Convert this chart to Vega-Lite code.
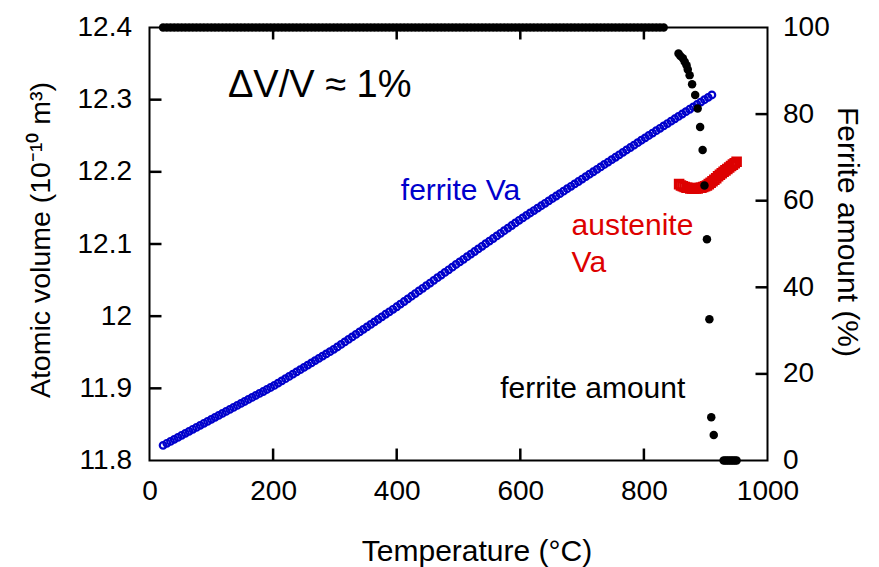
{
  "$schema": "https://vega.github.io/schema/vega-lite/v6.json",
  "width": 618,
  "height": 433,
  "autosize": {"type": "none"},
  "padding": {"left": 149.5, "top": 27.5, "right": 111.5, "bottom": 106.5},
  "background": "white",
  "config": {
    "view": {"stroke": "black", "strokeWidth": 2},
    "font": "Liberation Sans",
    "axis": {
      "domain": false, "grid": false, "ticks": false, "labelFlush": false,
      "labelFont": "Liberation Sans", "labelFontSize": 28, "labelColor": "black",
      "titleFont": "Liberation Sans", "titleFontSize": 30, "titleFontWeight": "normal", "titleColor": "black"
    }
  },
  "datasets": {
    "ferrite": [
      {"T":22,"Va":11.8210,"F":100},{"T":28,"Va":11.8238,"F":100},{"T":34,"Va":11.8265,"F":100},{"T":40,"Va":11.8293,"F":100},{"T":46,"Va":11.8320,"F":100},{"T":52,"Va":11.8349,"F":100},{"T":58,"Va":11.8376,"F":100},{"T":64,"Va":11.8404,"F":100},{"T":70,"Va":11.8432,"F":100},{"T":76,"Va":11.8459,"F":100},
      {"T":82,"Va":11.8487,"F":100},{"T":88,"Va":11.8515,"F":100},{"T":94,"Va":11.8542,"F":100},{"T":100,"Va":11.8570,"F":100},{"T":106,"Va":11.8598,"F":100},{"T":112,"Va":11.8625,"F":100},{"T":118,"Va":11.8653,"F":100},{"T":124,"Va":11.8680,"F":100},{"T":130,"Va":11.8708,"F":100},{"T":136,"Va":11.8736,"F":100},
      {"T":142,"Va":11.8763,"F":100},{"T":148,"Va":11.8791,"F":100},{"T":154,"Va":11.8818,"F":100},{"T":160,"Va":11.8846,"F":100},{"T":166,"Va":11.8874,"F":100},{"T":172,"Va":11.8901,"F":100},{"T":178,"Va":11.8929,"F":100},{"T":184,"Va":11.8956,"F":100},{"T":190,"Va":11.8984,"F":100},{"T":196,"Va":11.9012,"F":100},
      {"T":202,"Va":11.9040,"F":100},{"T":208,"Va":11.9072,"F":100},{"T":214,"Va":11.9103,"F":100},{"T":220,"Va":11.9134,"F":100},{"T":226,"Va":11.9165,"F":100},{"T":232,"Va":11.9196,"F":100},{"T":238,"Va":11.9228,"F":100},{"T":244,"Va":11.9259,"F":100},{"T":250,"Va":11.9290,"F":100},{"T":256,"Va":11.9321,"F":100},
      {"T":262,"Va":11.9352,"F":100},{"T":268,"Va":11.9384,"F":100},{"T":274,"Va":11.9415,"F":100},{"T":280,"Va":11.9446,"F":100},{"T":286,"Va":11.9477,"F":100},{"T":292,"Va":11.9508,"F":100},{"T":298,"Va":11.9540,"F":100},{"T":304,"Va":11.9573,"F":100},{"T":310,"Va":11.9608,"F":100},{"T":316,"Va":11.9643,"F":100},
      {"T":322,"Va":11.9678,"F":100},{"T":328,"Va":11.9712,"F":100},{"T":334,"Va":11.9747,"F":100},{"T":340,"Va":11.9782,"F":100},{"T":346,"Va":11.9817,"F":100},{"T":352,"Va":11.9852,"F":100},{"T":358,"Va":11.9886,"F":100},{"T":364,"Va":11.9921,"F":100},{"T":370,"Va":11.9956,"F":100},{"T":376,"Va":11.9991,"F":100},
      {"T":382,"Va":12.0026,"F":100},{"T":388,"Va":12.0060,"F":100},{"T":394,"Va":12.0095,"F":100},{"T":400,"Va":12.0130,"F":100},{"T":406,"Va":12.0167,"F":100},{"T":412,"Va":12.0203,"F":100},{"T":418,"Va":12.0240,"F":100},{"T":424,"Va":12.0276,"F":100},{"T":430,"Va":12.0313,"F":100},{"T":436,"Va":12.0350,"F":100},
      {"T":442,"Va":12.0386,"F":100},{"T":448,"Va":12.0423,"F":100},{"T":454,"Va":12.0459,"F":100},{"T":460,"Va":12.0496,"F":100},{"T":466,"Va":12.0533,"F":100},{"T":472,"Va":12.0569,"F":100},{"T":478,"Va":12.0606,"F":100},{"T":484,"Va":12.0642,"F":100},{"T":490,"Va":12.0679,"F":100},{"T":496,"Va":12.0716,"F":100},
      {"T":502,"Va":12.0752,"F":100},{"T":508,"Va":12.0788,"F":100},{"T":514,"Va":12.0824,"F":100},{"T":520,"Va":12.0860,"F":100},{"T":526,"Va":12.0896,"F":100},{"T":532,"Va":12.0932,"F":100},{"T":538,"Va":12.0968,"F":100},{"T":544,"Va":12.1004,"F":100},{"T":550,"Va":12.1040,"F":100},{"T":556,"Va":12.1076,"F":100},
      {"T":562,"Va":12.1112,"F":100},{"T":568,"Va":12.1148,"F":100},{"T":574,"Va":12.1184,"F":100},{"T":580,"Va":12.1220,"F":100},{"T":586,"Va":12.1256,"F":100},{"T":592,"Va":12.1292,"F":100},{"T":598,"Va":12.1328,"F":100},{"T":604,"Va":12.1362,"F":100},{"T":610,"Va":12.1396,"F":100},{"T":616,"Va":12.1430,"F":100},
      {"T":622,"Va":12.1463,"F":100},{"T":628,"Va":12.1497,"F":100},{"T":634,"Va":12.1530,"F":100},{"T":640,"Va":12.1564,"F":100},{"T":646,"Va":12.1598,"F":100},{"T":652,"Va":12.1631,"F":100},{"T":658,"Va":12.1665,"F":100},{"T":664,"Va":12.1698,"F":100},{"T":670,"Va":12.1732,"F":100},{"T":676,"Va":12.1766,"F":100},
      {"T":682,"Va":12.1799,"F":100},{"T":688,"Va":12.1833,"F":100},{"T":694,"Va":12.1866,"F":100},{"T":700,"Va":12.1900,"F":100},{"T":706,"Va":12.1934,"F":100},{"T":712,"Va":12.1967,"F":100},{"T":718,"Va":12.2001,"F":100},{"T":724,"Va":12.2034,"F":100},{"T":730,"Va":12.2068,"F":100},{"T":736,"Va":12.2102,"F":100},
      {"T":742,"Va":12.2135,"F":100},{"T":748,"Va":12.2169,"F":100},{"T":754,"Va":12.2202,"F":100},{"T":760,"Va":12.2236,"F":100},{"T":766,"Va":12.2270,"F":100},{"T":772,"Va":12.2303,"F":100},{"T":778,"Va":12.2337,"F":100},{"T":784,"Va":12.2370,"F":100},{"T":790,"Va":12.2404,"F":100},{"T":796,"Va":12.2438,"F":100},
      {"T":802,"Va":12.2471,"F":100},{"T":808,"Va":12.2504,"F":100},{"T":814,"Va":12.2537,"F":100},{"T":820,"Va":12.2570,"F":100},{"T":826,"Va":12.2603,"F":100},{"T":832,"Va":12.2636,"F":100},{"T":838,"Va":12.2669},{"T":844,"Va":12.2702},{"T":850,"Va":12.2735},{"T":856,"Va":12.2768},
      {"T":862,"Va":12.2801},{"T":868,"Va":12.2834},{"T":874,"Va":12.2867},{"T":880,"Va":12.2900},{"T":886,"Va":12.2933},{"T":892,"Va":12.2966},{"T":898,"Va":12.2999},{"T":904,"Va":12.3032},{"T":910,"Va":12.3065},
      {"T":856,"F":94.0},{"T":859,"F":93.4},{"T":863,"F":92.9},{"T":866,"F":92.1},{"T":869,"F":91.3},{"T":871,"F":90.3},{"T":874,"F":89.0},{"T":878,"F":86.9},{"T":883,"F":84.4},{"T":887,"F":81.3},
      {"T":891,"F":77.0},{"T":895,"F":71.7},{"T":898,"F":63.5},{"T":902,"F":51.1},{"T":906,"F":32.6},{"T":909,"F":10.0},{"T":913,"F":5.9},
      {"T":929,"F":0},{"T":932,"F":0},{"T":935,"F":0},{"T":938,"F":0},{"T":941,"F":0},{"T":944,"F":0},{"T":947,"F":0},{"T":950,"F":0}
    ],
    "austenite": [
      {"T":857,"Va":12.183},{"T":860,"Va":12.181},{"T":863,"Va":12.180},{"T":866,"Va":12.179},{"T":869,"Va":12.178},{"T":872,"Va":12.178},{"T":875,"Va":12.177},{"T":878,"Va":12.177},{"T":881,"Va":12.177},{"T":884,"Va":12.177},
      {"T":887,"Va":12.177},{"T":890,"Va":12.178},{"T":893,"Va":12.178},{"T":896,"Va":12.179},{"T":899,"Va":12.180},{"T":902,"Va":12.181},{"T":905,"Va":12.183},{"T":908,"Va":12.185},{"T":911,"Va":12.187},{"T":914,"Va":12.189},
      {"T":917,"Va":12.191},{"T":920,"Va":12.194},{"T":923,"Va":12.196},{"T":926,"Va":12.198},{"T":929,"Va":12.200},{"T":932,"Va":12.202},{"T":935,"Va":12.204},{"T":938,"Va":12.206},{"T":941,"Va":12.208},{"T":944,"Va":12.210},
      {"T":947,"Va":12.212},{"T":950,"Va":12.214}
    ]
  },
  "layer": [
    {
      "layer": [
        {
          "data": {"name": "ferrite"},
          "transform": [{"filter": "isValid(datum.Va)"}],
          "mark": {"type": "point", "shape": "circle", "filled": false, "color": "#0000cc", "size": 44, "strokeWidth": 2.2, "opacity": 1},
          "encoding": {
            "x": {"field": "T", "type": "quantitative", "scale": {"domain": [0, 1000], "nice": false},
                  "axis": {"orient": "bottom", "values": [0, 200, 400, 600, 800, 1000], "format": "d", "title": "Temperature (°C)", "labelPadding": 17, "titlePadding": 31, "titleX": 327}},
            "y": {"field": "Va", "type": "quantitative", "scale": {"domain": [11.8, 12.4], "nice": false, "zero": false},
                  "axis": {"orient": "left", "values": [11.8, 11.9, 12.0, 12.1, 12.2, 12.3, 12.4], "labelExpr": "format(datum.value, '.3~g')", "title": "Atomic volume (10⁻¹⁰ m³)", "titleFontSize": 28.5, "labelPadding": 18, "titlePadding": 22, "titleY": 212}}
          }
        },
        {
          "data": {"name": "austenite"},
          "mark": {"type": "point", "shape": "square", "filled": false, "color": "#dd0000", "size": 70, "strokeWidth": 2.2, "opacity": 1},
          "encoding": {
            "x": {"field": "T", "type": "quantitative"},
            "y": {"field": "Va", "type": "quantitative"}
          }
        },
        {
          "data": {"values": [{"T": 127, "Va": 12.304, "txt": "ΔV/V ≈ 1%"}]},
          "mark": {"type": "text", "fontSize": 38, "align": "left", "baseline": "alphabetic", "color": "black"},
          "encoding": {"x": {"field": "T", "type": "quantitative"}, "y": {"field": "Va", "type": "quantitative"}, "text": {"field": "txt"}}
        },
        {
          "data": {"values": [{"T": 600, "Va": 12.161, "txt": "ferrite Va"}]},
          "mark": {"type": "text", "fontSize": 30, "align": "right", "baseline": "alphabetic", "color": "#0000cc"},
          "encoding": {"x": {"field": "T", "type": "quantitative"}, "y": {"field": "Va", "type": "quantitative"}, "text": {"field": "txt"}}
        },
        {
          "data": {"values": [{"T": 683, "Va": 12.1125, "txt": ["austenite", "Va"]}]},
          "mark": {"type": "text", "fontSize": 30, "align": "left", "baseline": "alphabetic", "color": "#dd0000", "lineHeight": 37},
          "encoding": {"x": {"field": "T", "type": "quantitative"}, "y": {"field": "Va", "type": "quantitative"}, "text": {"field": "txt"}}
        },
        {
          "data": {"values": [{"T": 867, "Va": 11.887, "txt": "ferrite amount"}]},
          "mark": {"type": "text", "fontSize": 30, "align": "right", "baseline": "alphabetic", "color": "black"},
          "encoding": {"x": {"field": "T", "type": "quantitative"}, "y": {"field": "Va", "type": "quantitative"}, "text": {"field": "txt"}}
        },
        {
          "data": {"values": [{"T": 200, "lo": 11.8, "hi": 11.8166}, {"T": 400, "lo": 11.8, "hi": 11.8166}, {"T": 600, "lo": 11.8, "hi": 11.8166}, {"T": 800, "lo": 11.8, "hi": 11.8166}]},
          "mark": {"type": "rule", "strokeWidth": 2.5, "color": "#000000", "opacity": 1},
          "encoding": {"x": {"field": "T", "type": "quantitative"}, "y": {"field": "lo", "type": "quantitative"}, "y2": {"field": "hi"}}
        },
        {
          "data": {"values": [{"Va": 11.9, "lo": 0, "hi": 19.4}, {"Va": 12.0, "lo": 0, "hi": 19.4}, {"Va": 12.1, "lo": 0, "hi": 19.4}, {"Va": 12.2, "lo": 0, "hi": 19.4}, {"Va": 12.3, "lo": 0, "hi": 19.4}]},
          "mark": {"type": "rule", "strokeWidth": 2.5, "color": "#000000", "opacity": 1},
          "encoding": {"y": {"field": "Va", "type": "quantitative"}, "x": {"field": "lo", "type": "quantitative"}, "x2": {"field": "hi"}}
        }
      ]
    },
    {
      "layer": [
        {
          "data": {"name": "ferrite"},
          "transform": [{"filter": "isValid(datum.F)"}],
          "mark": {"type": "circle", "color": "black", "size": 72, "opacity": 1},
          "encoding": {
            "x": {"field": "T", "type": "quantitative", "axis": {"orient": "top", "labels": false, "title": null, "values": [0, 200, 400, 600, 800, 1000]}},
            "y": {"field": "F", "type": "quantitative", "scale": {"domain": [0, 100], "nice": false},
                  "axis": {"orient": "right", "values": [0, 20, 40, 60, 80, 100], "title": "Ferrite amount (%)", "labelPadding": 15, "titlePadding": 2, "titleY": 204}}
          }
        },
        {
          "data": {"values": [{"T": 200, "lo": 100, "hi": 97.23}, {"T": 400, "lo": 100, "hi": 97.23}, {"T": 600, "lo": 100, "hi": 97.23}, {"T": 800, "lo": 100, "hi": 97.23}]},
          "mark": {"type": "rule", "strokeWidth": 2.5, "color": "#000000", "opacity": 1},
          "encoding": {"x": {"field": "T", "type": "quantitative"}, "y": {"field": "lo", "type": "quantitative"}, "y2": {"field": "hi"}}
        },
        {
          "data": {"values": [{"F": 20, "lo": 1000, "hi": 980.6}, {"F": 40, "lo": 1000, "hi": 980.6}, {"F": 60, "lo": 1000, "hi": 980.6}, {"F": 80, "lo": 1000, "hi": 980.6}]},
          "mark": {"type": "rule", "strokeWidth": 2.5, "color": "#000000", "opacity": 1},
          "encoding": {"y": {"field": "F", "type": "quantitative"}, "x": {"field": "lo", "type": "quantitative"}, "x2": {"field": "hi"}}
        }
      ]
    }
  ],
  "resolve": {"scale": {"y": "independent"}, "axis": {"x": "independent", "y": "independent"}}
}
